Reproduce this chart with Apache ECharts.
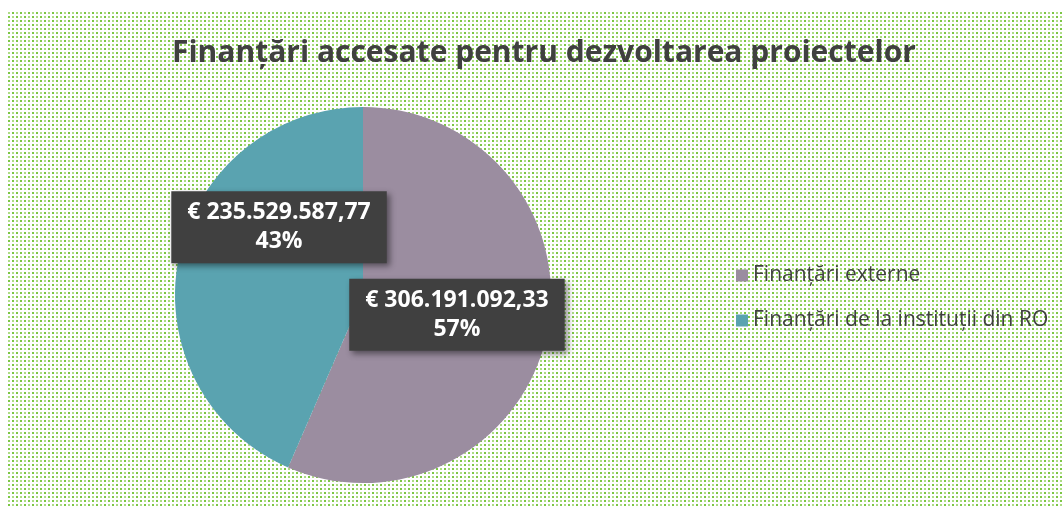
<!DOCTYPE html>
<html>
<head>
<meta charset="utf-8">
<script src="https://cdn.jsdelivr.net/npm/echarts@6/dist/echarts.min.js"></script>
<style>
    html, body { margin: 0; padding: 0; background: #fff; }
    #chart { width: 1062px; height: 508px; }
</style>
</head>
<body>
<div id="chart"></div>
<script>
let titleText = 'Finanțări accesate pentru dezvoltarea proiectelor';
let categories = ['Finanțări externe', 'Finanțări de la instituții din RO'];
let amounts = [306191092.33, 235529587.77];
let colors = ['#9b8da0', '#5aa3b0'];

// tile for the dotted green background
function makeDots() {
    let c = document.createElement('canvas');
    c.width = 8;
    c.height = 8;
    let ctx = c.getContext('2d');
    ctx.fillStyle = '#ffffff';
    ctx.fillRect(0, 0, 8, 8);
    ctx.fillStyle = '#7cc644';
    ctx.fillRect(0, 0, 2, 2);
    ctx.fillRect(4, 4, 2, 2);
    ctx.fillStyle = '#addc85';
    ctx.fillRect(4, 0, 2, 2);
    ctx.fillRect(0, 4, 2, 2);
    return c;
}

function formatEuro(v) {
    let parts = v.toFixed(2).split('.');
    let intPart = parts[0].replace(/\B(?=(\d{3})+(?!\d))/g, '.');
    return '€ ' + intPart + ',' + parts[1];
}

let total = amounts.reduce(function (a, b) { return a + b; }, 0);
let pieData = [];
for (let i in categories) {
    pieData.push({name: categories[i], value: amounts[i], itemStyle: {color: colors[i]}});
}

let myChart = echarts.init(document.getElementById('chart'));
let option = {
    animation: false,
    title: {
        text: titleText,
        left: 167,
        top: 33,
        textStyle: {
            fontFamily: 'Open Sans',
            fontSize: 30,
            fontWeight: 'bold',
            color: '#404040'
        }
    },
    legend: {
        orient: 'vertical',
        left: 731,
        top: 260,
        itemWidth: 12,
        itemHeight: 12,
        itemGap: 24,
        icon: 'rect',
        textStyle: {
            fontFamily: 'Open Sans',
            fontSize: 21,
            color: '#404040'
        },
        data: categories
    },
    graphic: [{
        type: 'rect',
        z: -10,
        silent: true,
        shape: {x: 6, y: 10, width: 1056, height: 498},
        style: {fill: {image: makeDots(), repeat: 'repeat'}}
    }],
    series: [{
        type: 'pie',
        center: [363, 295],
        radius: 188,
        startAngle: 90,
        clockwise: true,
        data: pieData,
        label: {
            position: 'inside',
            formatter: function (p) {
                return formatEuro(p.value) + '\n' + Math.round(p.value / total * 100) + '%';
            },
            fontFamily: 'Open Sans',
            fontSize: 23,
            fontWeight: 'bold',
            lineHeight: 29,
            color: '#ffffff',
            backgroundColor: '#404040',
            padding: [7, 16, 7, 16],
            shadowColor: 'rgba(0,0,0,0.45)',
            shadowBlur: 6,
            shadowOffsetX: 3,
            shadowOffsetY: 3
        },
        labelLine: {show: false},
        labelLayout: function (params) {
            if (params.dataIndex === 1) {
                return {dx: 11, dy: -48};
            }
            return {dx: -1};
        },
        itemStyle: {borderWidth: 0}
    }]
};
myChart.setOption(option);
</script>
</body>
</html>
